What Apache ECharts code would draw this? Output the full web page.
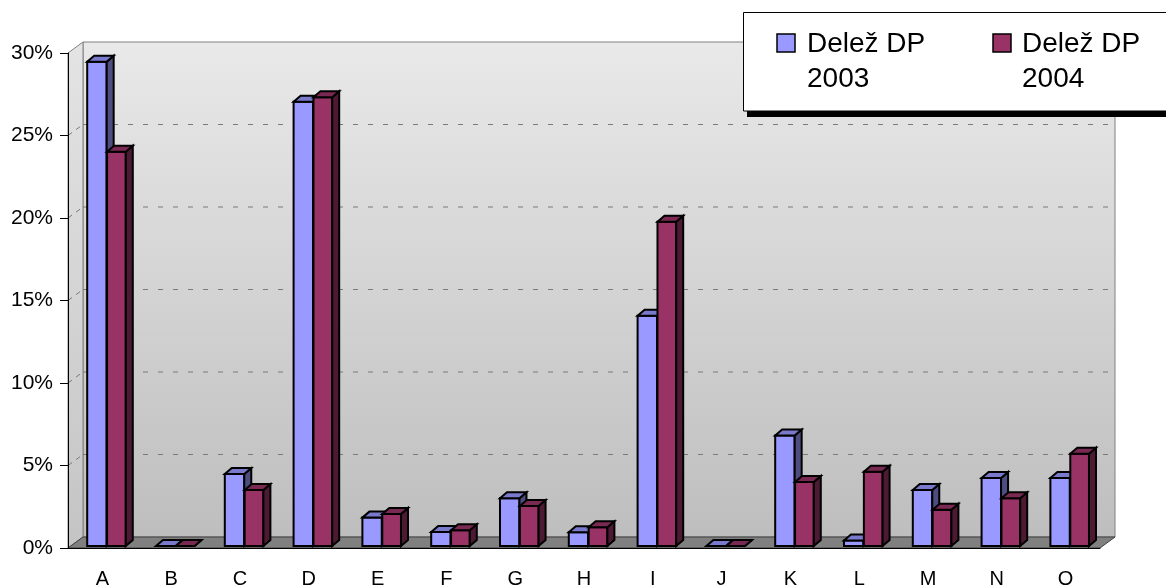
<!DOCTYPE html>
<html>
<head>
<meta charset="utf-8">
<title>Delež DP</title>
<script src="https://cdn.jsdelivr.net/npm/echarts@6/dist/echarts.min.js"></script>
<style>
    html, body { margin: 0; padding: 0; background: #fff; }
    #main { width: 1166px; height: 585px; }
</style>
</head>
<body>
<div id="main"></div>
<script>
"use strict";

// podatki
var categories = ['A', 'B', 'C', 'D', 'E', 'F', 'G', 'H', 'I', 'J', 'K', 'L', 'M', 'N', 'O'];
var seriesNames = ['Delež DP\n2003', 'Delež DP\n2004'];
var share2003 = [29.35, 0, 4.36, 26.93, 1.72, 0.85, 2.89, 0.83, 13.96, 0, 6.69, 0.34, 3.39, 4.12, 4.12];
var share2004 = [23.9, 0, 3.39, 27.2, 1.94, 0.95, 2.42, 1.13, 19.65, 0, 3.88, 4.5, 2.2, 2.89, 5.59];
var gridTicks = [5, 10, 15, 20, 25];

var FONT = '"Liberation Sans", Arial, sans-serif';
var WALL_DX = 15, WALL_DY = -11;   // globina ozadja
var BAR_DX = 7, BAR_DY = -6;       // globina stolpca

var colors2003 = { front: '#9999FF', top: '#7A7ACC', side: '#4D4D80' };
var colors2004 = { front: '#993366', top: '#7A2952', side: '#4D1A33' };

var chart = echarts.init(document.getElementById('main'));

// stene in tla
function renderWalls(params, api) {
    var cs = params.coordSys;
    var left = cs.x, right = cs.x + cs.width;
    var bottom = api.coord([0, 0])[1];
    var top = api.coord([0, 30])[1];
    var children = [];

    children.push({
        type: 'polygon',
        shape: { points: [[left + WALL_DX, top + WALL_DY], [right + WALL_DX, top + WALL_DY], [right + WALL_DX, bottom + WALL_DY], [left + WALL_DX, bottom + WALL_DY]] },
        style: {
            fill: new echarts.graphic.LinearGradient(0, 0, 0, 1, [
                { offset: 0, color: '#E9E9E9' },
                { offset: 1, color: '#BEBEBE' }
            ]),
            stroke: '#808080', lineWidth: 1
        }
    });
    children.push({
        type: 'polygon',
        shape: { points: [[left, top], [left + WALL_DX, top + WALL_DY], [left + WALL_DX, bottom + WALL_DY], [left, bottom]] },
        style: {
            fill: new echarts.graphic.LinearGradient(0, 0, 0, 1, [
                { offset: 0, color: '#E4E4E4' },
                { offset: 1, color: '#C4C4C4' }
            ]),
            stroke: '#808080', lineWidth: 1
        }
    });

    gridTicks.forEach(function (t) {
        var y = api.coord([0, t])[1];
        children.push({
            type: 'line',
            shape: { x1: left + WALL_DX, y1: y + WALL_DY, x2: right + WALL_DX, y2: y + WALL_DY },
            style: { stroke: '#7A7A7A', lineWidth: 1, lineDash: [5, 10] }
        });
        children.push({
            type: 'line',
            shape: { x1: left, y1: y, x2: left + WALL_DX, y2: y + WALL_DY },
            style: { stroke: '#7A7A7A', lineWidth: 1, lineDash: [5, 5] }
        });
    });

    children.push({
        type: 'polygon',
        shape: { points: [[left, bottom], [left + WALL_DX, bottom + WALL_DY], [right + WALL_DX, bottom + WALL_DY], [right, bottom]] },
        style: { fill: '#808080', stroke: '#404040', lineWidth: 1 }
    });

    return { type: 'group', children: children };
}

// 3D stolpec
function barRenderer(offsetFrac, widthFrac, col) {
    return function (params, api) {
        var idx = api.value(0);
        var c = api.coord([idx, api.value(1)]);
        var b = api.coord([idx, 0]);
        var w = api.size([1, 0])[0];
        var x0 = b[0] + offsetFrac * w;
        var x1 = x0 + widthFrac * w;
        var yb = b[1] - 2, yt = c[1] - 2;
        var line = { stroke: '#000', lineWidth: 2, lineJoin: 'miter' };
        return {
            type: 'group',
            children: [{
                type: 'polygon',
                shape: { points: [[x0, yb], [x1, yb], [x1, yt], [x0, yt]] },
                style: Object.assign({ fill: col.front }, line)
            }, {
                type: 'polygon',
                shape: { points: [[x1, yb], [x1 + BAR_DX, yb + BAR_DY], [x1 + BAR_DX, yt + BAR_DY], [x1, yt]] },
                style: Object.assign({ fill: col.side }, line)
            }, {
                type: 'polygon',
                shape: { points: [[x0, yt], [x1, yt], [x1 + BAR_DX, yt + BAR_DY], [x0 + BAR_DX, yt + BAR_DY]] },
                style: Object.assign({ fill: col.top }, line)
            }]
        };
    };
}

function toData(values) {
    return values.map(function (v, i) { return [i, v]; });
}

// legenda
function legendGraphic() {
    var items = [
        { x: 777, tx: 807, name: seriesNames[0], color: colors2003.front },
        { x: 993, tx: 1022, name: seriesNames[1], color: colors2004.front }
    ];
    var g = [
        { type: 'rect', z: 100, shape: { x: 747, y: 111, width: 430, height: 6 }, style: { fill: '#000' } },
        { type: 'rect', z: 101, shape: { x: 743.5, y: 12.5, width: 430, height: 98.5 }, style: { fill: '#fff', stroke: '#000', lineWidth: 1 } }
    ];
    items.forEach(function (it) {
        g.push({ type: 'rect', z: 102, shape: { x: it.x, y: 34, width: 18, height: 18 }, style: { fill: it.color, stroke: '#000', lineWidth: 1.5 } });
        g.push({ type: 'text', z: 102, x: it.tx, y: 27, style: { text: it.name, font: '28px ' + FONT, fill: '#000', lineHeight: 35 } });
    });
    return g;
}

var option = {
    backgroundColor: '#fff',
    animation: false,
    grid: { left: 68, right: 66, top: 53, bottom: 37, outerBoundsMode: 'none' },
    xAxis: {
        type: 'category',
        data: categories,
        z: 10,
        axisLine: { lineStyle: { color: '#000', width: 1 } },
        axisTick: { length: 8, lineStyle: { color: '#000' } },
        axisLabel: { color: '#000', fontFamily: FONT, fontSize: 20, lineHeight: 20, margin: 21 },
        splitLine: { show: false }
    },
    yAxis: {
        type: 'value',
        min: 0,
        max: 30,
        interval: 5,
        z: 10,
        axisLine: { show: true, lineStyle: { color: '#000', width: 1 } },
        axisTick: { show: true, length: 8, lineStyle: { color: '#000' } },
        axisLabel: { color: '#000', fontFamily: FONT, fontSize: 21, margin: 15, formatter: '{value}%' },
        splitLine: { show: false }
    },
    series: [{
        type: 'custom',
        name: 'walls',
        silent: true,
        clip: false,
        z: 1,
        data: [[0, 0]],
        renderItem: renderWalls
    }, {
        type: 'custom',
        name: seriesNames[0],
        clip: false,
        z: 2,
        data: toData(share2003),
        renderItem: barRenderer(-0.221, 0.283, colors2003)
    }, {
        type: 'custom',
        name: seriesNames[1],
        clip: false,
        z: 3,
        data: toData(share2004),
        renderItem: barRenderer(0.068, 0.272, colors2004)
    }],
    graphic: { elements: legendGraphic() }
};

chart.setOption(option);
</script>
</body>
</html>
